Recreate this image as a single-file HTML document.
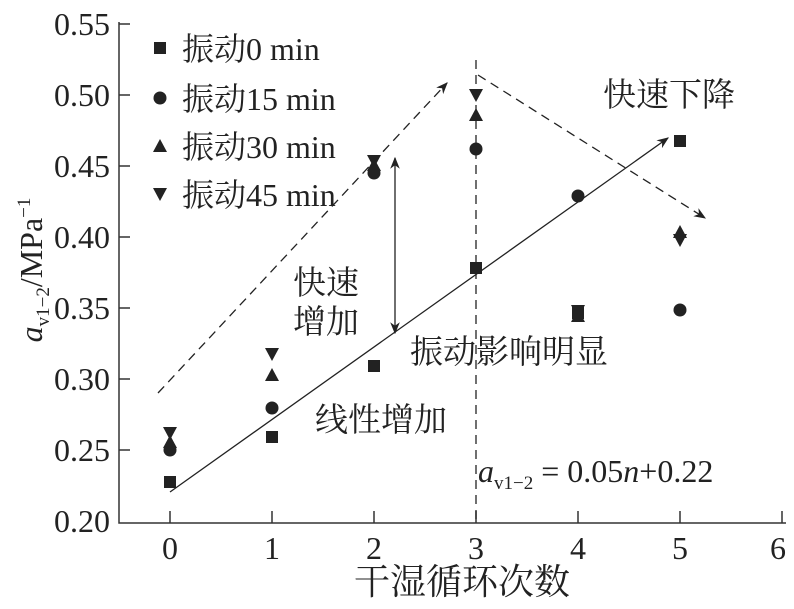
<!DOCTYPE html>
<html><head><meta charset="utf-8"><style>
body{margin:0;background:#fff}
svg text{font-family:"Liberation Serif","Noto Serif CJK SC",serif;fill:#222}
</style></head><body>
<svg width="794" height="604" viewBox="0 0 794 604" xmlns="http://www.w3.org/2000/svg">
<defs>
<marker id="ar" viewBox="0 0 10 10" refX="9" refY="5" markerWidth="12" markerHeight="12" markerUnits="userSpaceOnUse" orient="auto-start-reverse"><path d="M0,1 L10,5 L0,9 L3,5z" fill="#222"/></marker>
<g id="sq"><rect x="-6" y="-6" width="12" height="12" fill="#222"/></g>
<g id="ci"><circle r="6.5" fill="#222"/></g>
<g id="tu"><path d="M0,-7 L7,6 L-7,6z" fill="#222"/></g>
<g id="td"><path d="M0,7 L7,-6 L-7,-6z" fill="#222"/></g>
</defs>
<g stroke="#333" stroke-width="1.5" fill="none">
<path d="M119,22 V523 H786"/>
<path d="M119,24 h11 M119,95 h11 M119,166 h11 M119,237 h11 M119,308 h11 M119,379 h11 M119,450 h11"/>
<path d="M170,523 v-12 M272,523 v-12 M374,523 v-12 M476,523 v-12 M578,523 v-12 M680,523 v-12 M782,523 v-12"/>
</g>
<g font-size="32" text-anchor="end">
<text x="110" y="35">0.55</text><text x="110" y="106">0.50</text><text x="110" y="177">0.45</text><text x="110" y="248">0.40</text><text x="110" y="319">0.35</text><text x="110" y="390">0.30</text><text x="110" y="461">0.25</text><text x="110" y="532">0.20</text>
</g>
<g font-size="32" text-anchor="middle">
<text x="170" y="559">0</text><text x="272" y="559">1</text><text x="374" y="559">2</text><text x="476" y="559">3</text><text x="578" y="559">4</text><text x="680" y="559">5</text><text x="778" y="559">6</text>
<text x="462" y="594" font-size="36">干湿循环次数</text>
</g>
<text transform="translate(42,270) rotate(-90)" font-size="32" text-anchor="middle"><tspan font-style="italic">a</tspan><tspan font-size="19" dy="7">v1−2</tspan><tspan dy="-7">/MPa</tspan><tspan font-size="19" dy="-12">−1</tspan></text>
<!-- legend -->
<use href="#sq" x="160" y="48"/><text x="182" y="60" font-size="32">振动0 min</text>
<use href="#ci" x="160" y="98"/><text x="182" y="110" font-size="32">振动15 min</text>
<use href="#tu" x="160" y="146"/><text x="182" y="158" font-size="32">振动30 min</text>
<use href="#td" x="160" y="194"/><text x="182" y="206" font-size="32">振动45 min</text>
<!-- lines -->
<g stroke="#222" stroke-width="1.3" fill="none">
<path d="M170,492 L668,138" marker-end="url(#ar)"/>
<path d="M158,393 L447,83" stroke-dasharray="9,6" marker-end="url(#ar)"/>
<path d="M478,75 L705,218" stroke-dasharray="9,6" marker-end="url(#ar)"/>
<path d="M476,60 V523" stroke-dasharray="9,6"/>
<path d="M395,158 V333" marker-start="url(#ar)" marker-end="url(#ar)"/>
</g>
<!-- data -->
<use href="#td" x="170" y="433"/><use href="#tu" x="170" y="442"/><use href="#ci" x="170" y="450"/><use href="#sq" x="170" y="482"/>
<use href="#td" x="272" y="354"/><use href="#tu" x="272" y="375"/><use href="#ci" x="272" y="408"/><use href="#sq" x="272" y="437"/>
<use href="#td" x="374" y="161"/><use href="#tu" x="374" y="165"/><use href="#ci" x="374" y="173"/><use href="#sq" x="374" y="366"/>
<use href="#td" x="476" y="95"/><use href="#tu" x="476" y="115"/><use href="#ci" x="476" y="149"/><use href="#sq" x="476" y="268"/>
<use href="#ci" x="578" y="196"/><use href="#td" x="578" y="311"/><use href="#tu" x="578" y="316"/><use href="#sq" x="578" y="313"/>
<use href="#sq" x="680" y="141"/><use href="#tu" x="680" y="232"/><use href="#td" x="680" y="240"/><use href="#ci" x="680" y="310"/>
<!-- annotations -->
<g font-size="33">
<text x="603" y="106">快速下降</text>
<text x="293" y="294">快速</text>
<text x="293" y="333">增加</text>
<text x="410" y="363">振动影响明显</text>
<text x="315" y="431">线性增加</text>
<text x="478" y="482" font-size="32"><tspan font-style="italic">a</tspan><tspan font-size="19" dy="7">v1−2</tspan><tspan dy="-7"> = 0.05</tspan><tspan font-style="italic">n</tspan><tspan>+0.22</tspan></text>
</g>
</svg>
</body></html>
